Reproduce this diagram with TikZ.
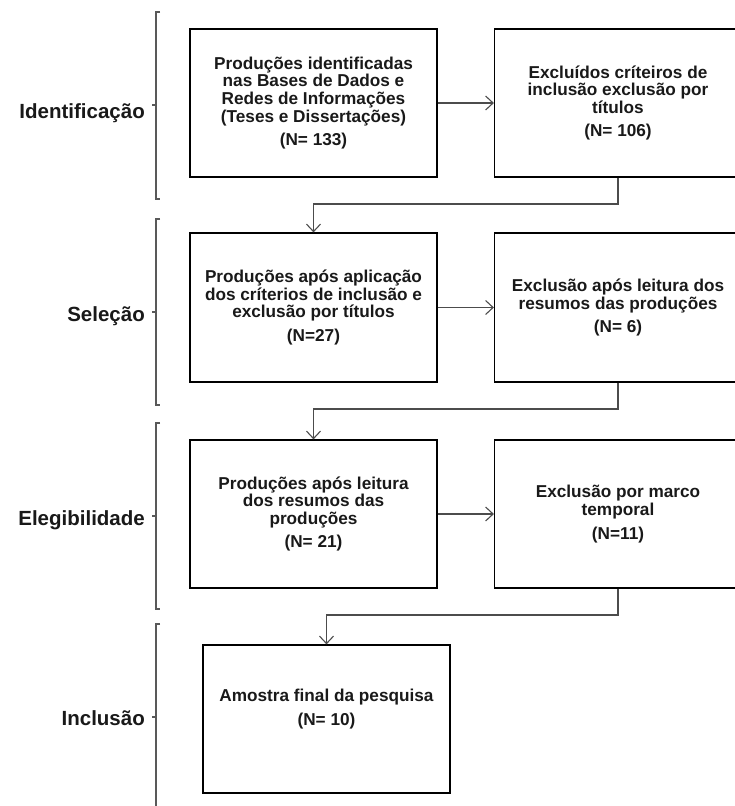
\documentclass[tikz,border=0pt]{standalone}
\usepackage{fontspec}
\setmainfont{Liberation Sans}
\usetikzlibrary{arrows.meta,positioning}
\tikzset{
  box/.style={draw=black, line width=1.2pt, minimum width=247pt, minimum height=148pt,
    align=center, inner sep=0pt, font=\bfseries\fontsize{17.2}{17.6}\selectfont, text=black!90},
  conn/.style={draw=black!70, line width=1.2pt, -{Straight Barb[length=7.5pt,width=14pt,line width=1.1pt]}},
  brk/.style={draw=black!65, line width=1.3pt},
  stage/.style={anchor=east, inner sep=0pt, font=\bfseries\fontsize{20.5}{22}\selectfont, text=black!90}
}
\begin{document}
\begin{tikzpicture}[x=1pt,y=-1pt]
\useasboundingbox (0,0) rectangle (734,806);
% boxes
\node[box] (b1) at (313.5,103) {Produções identificadas\\nas Bases de Dados e\\Redes de Informações\\(Teses e Dissertações)\\[6pt](N= 133)};
\node[box] (b2) at (618,103) {Excluídos críteiros de\\inclusão exclusão por\\títulos\\[6pt](N= 106)};
\node[box, minimum height=149pt] (b3) at (313.5,307.5) {Produções após aplicação\\dos críterios de inclusão e\\exclusão por títulos\\[6pt](N=27)};
\node[box, minimum height=149pt] (b4) at (618,307.5) {Exclusão após leitura dos\\resumos das produções\\[6pt](N= 6)};
\node[box] (b5) at (313.5,514) {Produções após leitura\\dos resumos das\\produções\\[6pt](N= 21)};
\node[box] (b6) at (618,514) {Exclusão por marco\\temporal\\[6pt](N=11)};
\node[box] (b7) at (326.5,719) {};
\node[align=center, inner sep=0pt, font=\bfseries\fontsize{17.2}{17.6}\selectfont, text=black!90] (t7) at (326.5,709) {Amostra final da pesquisa\\[6pt](N= 10)};
% connectors
\draw[conn] (b1) -- (b2);
\draw[conn] (b3) -- (b4);
\draw[conn] (b5) -- (b6);
\coordinate (k1) at (618,204);
\coordinate (k2) at (618,409);
\coordinate (k3) at (618,615);
\draw[conn] (b2.south) -- (k1) -| (b3.north);
\draw[conn] (b4.south) -- (k2) -| (b5.north);
\draw[conn] (b6.south) -- (k3) -| (b7.north);
% brackets
\draw[brk] (160,12) -- (156,12) -- (156,199) -- (160,199);
\draw[brk] (156,105) -- (152,105);
\draw[brk] (160,219) -- (156,219) -- (156,405) -- (160,405);
\draw[brk] (156,312) -- (152,312);
\draw[brk] (160,423) -- (156,423) -- (156,609) -- (160,609);
\draw[brk] (156,516) -- (152,516);
\draw[brk] (160,624) -- (156,624) -- (156,810);
\draw[brk] (156,717) -- (152,717);
% stage labels
\node[stage] (s1) at (145,113) {Identificação};
\node[stage] (s2) at (145,316) {Seleção};
\node[stage] (s3) at (145,520) {Elegibilidade};
\node[stage] (s4) at (145,718) {Inclusão};
\end{tikzpicture}
\end{document}
